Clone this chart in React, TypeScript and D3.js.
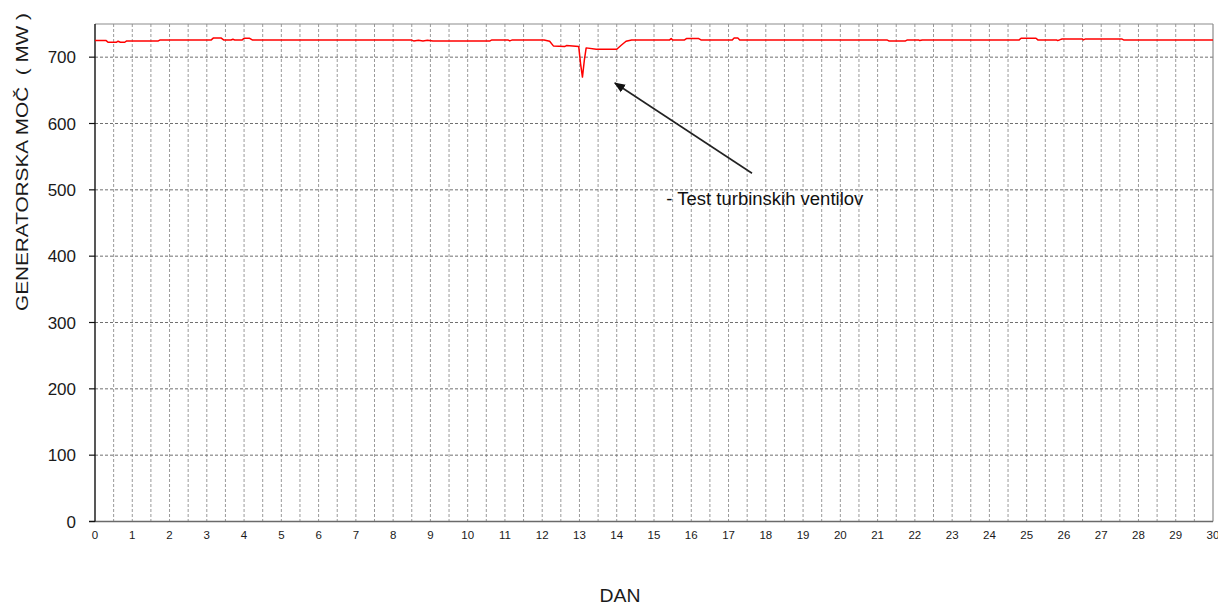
import React from 'react';
import * as d3 from 'd3';

// Generator output over the month (day, MW)
const dayPoints = [
  0, 0.3, 0.35, 0.58, 0.62, 0.68, 0.8, 0.85, 1.7, 1.75,
  3.12, 3.18, 3.38, 3.45, 3.65, 3.7, 3.75, 3.95, 4.0, 4.15, 4.22,
  8.48, 8.55, 8.68, 8.8, 8.92, 9.07, 10.6, 10.65, 11.08, 11.13, 11.2,
  12.05, 12.2, 12.3, 12.6, 12.65, 12.9, 12.98, 13.03, 13.08, 13.13, 13.18,
  13.45, 14.0, 14.12, 14.25, 14.4, 15.42, 15.46, 15.5, 15.82, 15.87, 16.2, 16.26,
  17.1, 17.15, 17.25, 17.3, 21.25, 21.3, 21.75, 21.8, 22.1, 22.13, 22.2,
  24.8, 24.85, 25.25, 25.3, 25.8, 25.83, 25.88, 25.95, 26.5, 26.52, 26.58,
  27.55, 27.6, 30,
];
const powerValues = [
  725, 725, 722.5, 722.5, 724, 722.5, 722.5, 724.5, 724.5, 726,
  726, 729, 729, 726, 726, 727, 726, 726, 728.5, 728.5, 726,
  726, 724.5, 725.5, 724.5, 725.5, 724.5, 724.5, 726, 726, 724.5, 726,
  726, 724, 717, 716, 717.5, 716.5, 716, 690, 670, 695, 714,
  712, 712, 718, 724, 726, 726, 728, 726, 726, 728, 728, 726,
  726, 729, 729, 726, 726, 724.5, 724.5, 726, 726, 725, 726,
  726, 728.5, 728.5, 726, 726, 725, 726, 727.5, 727.5, 726, 727.5,
  727.5, 726, 726,
];

const yTicks = [0, 100, 200, 300, 400, 500, 600, 700];
const xTicks = d3.range(0, 31);
const xGrid = d3.range(0.5, 30, 0.5);

const annotationText = '- Test turbinskih ventilov';
const arrowTip = { day: 13.95, mw: 661 };
const arrowTail = { day: 17.63, mw: 525 };
const labelAt = { day: 15.33, mw: 477 };

const W = 1218;
const H = 608;
const margin = { top: 24, right: 5, bottom: 86.5, left: 95 };
const font = '"Liberation Sans", Arial, sans-serif';

const App: React.FC = () => {
  const x = d3.scaleLinear().domain([0, 30]).range([margin.left, W - margin.right]);
  const y = d3.scaleLinear().domain([0, 750]).range([H - margin.bottom, margin.top]);

  const series = dayPoints.map((d, i) => [d, powerValues[i]] as [number, number]);
  const line = d3.line<[number, number]>()
    .x(d => x(d[0]))
    .y(d => y(d[1]));

  const x0 = x(0);
  const x1 = x(30);
  const yb = y(0);
  const yt = y(750);

  return (
    <div style={{ position: 'fixed', left: 0, top: 0, background: '#fff' }}>
      <svg width={W} height={H} style={{ display: 'block', fontFamily: font }}>
        <defs>
          <marker id="arrowhead" viewBox="0 0 10 10" refX="9" refY="5" markerWidth="7" markerHeight="7" orient="auto">
            <path d="M0,1 L10,5 L0,9 Z" fill="#111" />
          </marker>
        </defs>

        {/* vertical half-day grid */}
        {xGrid.map(d => (
          <line key={'vx' + d} x1={x(d)} x2={x(d)} y1={yt} y2={yb}
            stroke="#9a9a9a" strokeWidth={1} strokeDasharray="3,2" />
        ))}

        {/* horizontal grid */}
        {yTicks.filter(v => v > 0).map(v => (
          <line key={'hy' + v} x1={x0} x2={x1} y1={y(v)} y2={y(v)}
            stroke="#707070" strokeWidth={1} strokeDasharray="3,2" />
        ))}

        {/* frame */}
        <line x1={x0} x2={x1} y1={yt} y2={yt} stroke="#8c8c8c" strokeWidth={1.2} />
        <line x1={x1} x2={x1} y1={yt} y2={yb} stroke="#8c8c8c" strokeWidth={1.2} />
        <line x1={x0 - 6} x2={x1} y1={yb} y2={yb} stroke="#6a6a6a" strokeWidth={1.4} />
        <line x1={x0} x2={x0} y1={yt} y2={yb} stroke="#111" strokeWidth={1.4} />

        {/* y ticks and labels */}
        {yTicks.map(v => (
          <g key={'yt' + v}>
            <line x1={x0 - 6} x2={x0} y1={y(v)} y2={y(v)} stroke="#111" strokeWidth={1.2} />
            <text x={76} y={y(v)} dy="0.36em" textAnchor="end" fontSize={17} fill="#1a1a1a">{v}</text>
          </g>
        ))}

        {/* x labels */}
        {xTicks.map(d => (
          <text key={'xt' + d} x={x(d)} y={539} textAnchor="middle" fontSize={11.5} fill="#1a1a1a">{d}</text>
        ))}

        {/* data line */}
        <path d={line(series) || ''} fill="none" stroke="#ff0000" strokeWidth={1.5} strokeLinejoin="round" />

        {/* annotation */}
        <line x1={x(arrowTail.day)} y1={y(arrowTail.mw)} x2={x(arrowTip.day)} y2={y(arrowTip.mw)}
          stroke="#222" strokeWidth={1.6} markerEnd="url(#arrowhead)" />
        <text x={x(labelAt.day)} y={y(labelAt.mw)} fontSize={18} fill="#111"
          textLength={197} lengthAdjust="spacingAndGlyphs">{annotationText}</text>

        {/* axis titles */}
        <text transform={`translate(28,162) rotate(-90)`} textAnchor="middle" fontSize={17} fill="#1a1a1a"
          textLength={298} lengthAdjust="spacingAndGlyphs" style={{ whiteSpace: 'pre' }}>
          {'GENERATORSKA MOČ  ( MW )'}
        </text>
        <text x={620} y={602} textAnchor="middle" fontSize={18} fill="#1a1a1a"
          textLength={41} lengthAdjust="spacingAndGlyphs">DAN</text>
      </svg>
    </div>
  );
};

export default App;
